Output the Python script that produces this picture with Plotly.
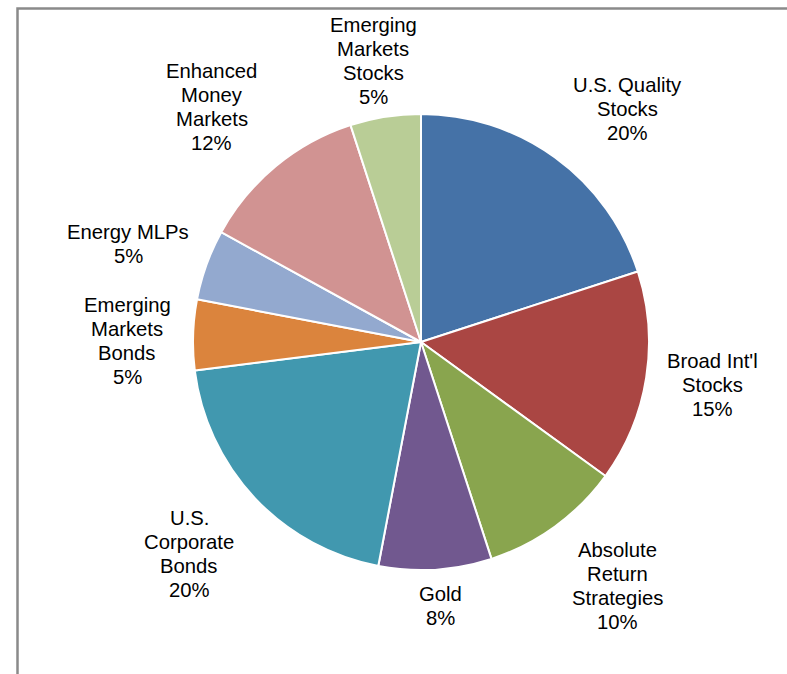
import plotly.graph_objects as go

# ---- data ----
labels = ["U.S. Quality<br>Stocks", "Broad Int'l<br>Stocks", "Absolute<br>Return<br>Strategies",
          "Gold", "U.S.<br>Corporate<br>Bonds", "Emerging<br>Markets<br>Bonds",
          "Energy MLPs", "Enhanced<br>Money<br>Markets", "Emerging<br>Markets<br>Stocks"]
values = [20, 15, 10, 8, 20, 5, 5, 12, 5]
colors = ["#4572A7", "#AA4643", "#89A54E", "#71588F", "#4198AF",
          "#DB843D", "#93A9CF", "#D19392", "#B9CD96"]

# label centre positions (pixels in the 787x674 page) - layout only
label_pos = [(627, 109), (712, 385), (617, 586), (441, 606), (189, 554),
             (127, 341), (128, 244), (212, 107), (373, 61)]
LINE_GAP = 24.3  # px between label lines

W, H = 787, 674
cx, cy, R = 421, 342, 228

fig = go.Figure()
fig.add_trace(go.Pie(
    labels=labels, values=values, sort=False, direction="clockwise", rotation=0,
    marker=dict(colors=colors, line=dict(color="white", width=2)),
    textinfo="none", hoverinfo="label+percent", showlegend=False,
    domain=dict(x=[(cx - R) / W, (cx + R) / W], y=[(H - cy - R) / H, (H - cy + R) / H]),
))

total = sum(values)
annotations = []
for lab, v, (px, py) in zip(labels, values, label_pos):
    lines = lab.split("<br>") + [f"{round(100 * v / total)}%"]
    n = len(lines)
    for i, line in enumerate(lines):
        ly = py + (i - (n - 1) / 2) * LINE_GAP
        annotations.append(dict(
            x=px / W, y=1 - ly / H, xref="paper", yref="paper",
            text=line, showarrow=False,
            xanchor="center", yanchor="middle", align="center",
            font=dict(family="Liberation Sans, Arial, sans-serif", size=20.3, color="#000000"),
        ))

fig.update_layout(
    width=W, height=H, margin=dict(l=0, r=0, t=0, b=0),
    paper_bgcolor="white", plot_bgcolor="white",
    annotations=annotations,
    shapes=[dict(type="rect", xref="paper", yref="paper",
                 x0=17.5 / W, x1=1.05, y0=-0.05, y1=1 - 8.5 / H,
                 line=dict(color="#8a8a8a", width=2.5), fillcolor="rgba(0,0,0,0)")],
)

fig.write_html("out.html")
